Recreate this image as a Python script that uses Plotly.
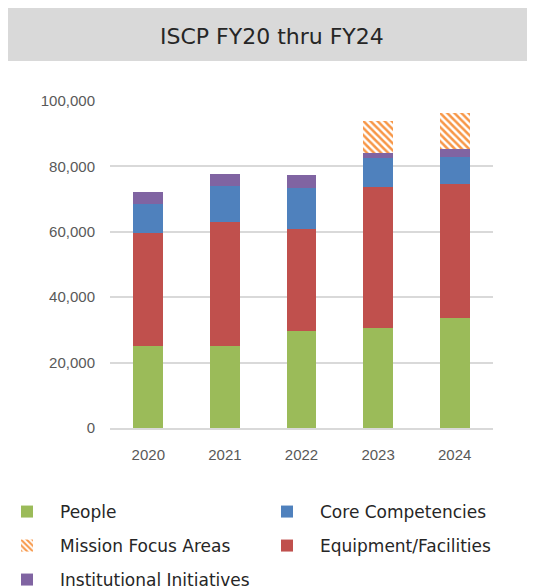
import plotly.graph_objects as go

years = ["2020", "2021", "2022", "2023", "2024"]
people = [25100, 25100, 29600, 30700, 33600]
equipment = [34500, 37800, 31300, 43000, 41000]
core = [8900, 11200, 12500, 8900, 8300]
institutional = [3700, 3700, 4000, 1600, 2500]
mission = [0, 0, 0, 9600, 10800]

# page body has an 8px margin, so figure px = reference px - 8
W, H = 535, 588
L, R, T, B = 102, 485, 93, 420


def px_x(p):
    return (p - L) / (R - L)


def px_y(p):
    return (B - p) / (B - T)


# name, values, colour, hatch, legend slot (legend left px, row centre px)
series = [
    ("People", people, "#9BBB59", None, (-14, 504)),
    ("Equipment/Facilities", equipment, "#C0504D", None, (246, 538)),
    ("Core Competencies", core, "#4F81BD", None, (246, 504)),
    ("Institutional Initiatives", institutional, "#8064A2", None, (-14, 572)),
    ("Mission Focus Areas", mission, "#F79646", "\\", (-14, 538)),
]

fig = go.Figure()
legends = {}
for i, (name, vals, col, pat, (lx, ly)) in enumerate(series):
    marker = dict(color=col, line=dict(width=0))
    if pat:
        marker = dict(color=col, line=dict(width=0),
                      pattern=dict(shape=pat, fgcolor=col, bgcolor="white",
                                   size=5, solidity=0.5, fillmode="replace"))
    key = "legend" if i == 0 else "legend%d" % (i + 1)
    fig.add_trace(go.Bar(x=years, y=vals, name=name, marker=marker,
                         legend=key, showlegend=True))
    legends[key] = dict(xref="paper", yref="container",
                        x=px_x(lx), y=1 - ly / H, xanchor="left", yanchor="middle",
                        font=dict(family="DejaVu Sans", size=17, color="#262626"),
                        itemwidth=56, bgcolor="rgba(0,0,0,0)", borderwidth=0)

# grey title band
fig.add_shape(type="rect", xref="paper", yref="paper",
              x0=px_x(0), x1=px_x(540), y0=px_y(53), y1=px_y(0),
              fillcolor="#D9D9D9", line=dict(width=0), layer="below")
fig.add_annotation(text="ISCP FY20 thru FY24", xref="paper", yref="paper",
                   x=px_x(264), y=px_y(28), xanchor="center", yanchor="middle",
                   showarrow=False,
                   font=dict(family="DejaVu Sans", size=22, color="#262626"))

fig.update_layout(
    width=W, height=H, showlegend=True,
    margin=dict(l=L, r=W - R, t=T, b=H - B, autoexpand=False),
    barmode="stack", bargap=0.61,
    paper_bgcolor="white", plot_bgcolor="white",
    font=dict(family="Liberation Sans, Arial, sans-serif", color="#595959", size=15),
    xaxis=dict(showgrid=False, showline=True, linecolor="#D9D9D9", linewidth=2,
               ticks="", ticklabelstandoff=12, tickfont=dict(size=15, color="#595959")),
    yaxis=dict(range=[0, 100000], dtick=20000, tickformat=",", showgrid=True,
               gridcolor="#D9D9D9", gridwidth=2, zeroline=False, showline=False,
               ticks="", ticklabelstandoff=14, tickfont=dict(size=15, color="#595959")),
    **legends,
)

fig.write_html("out.html")
